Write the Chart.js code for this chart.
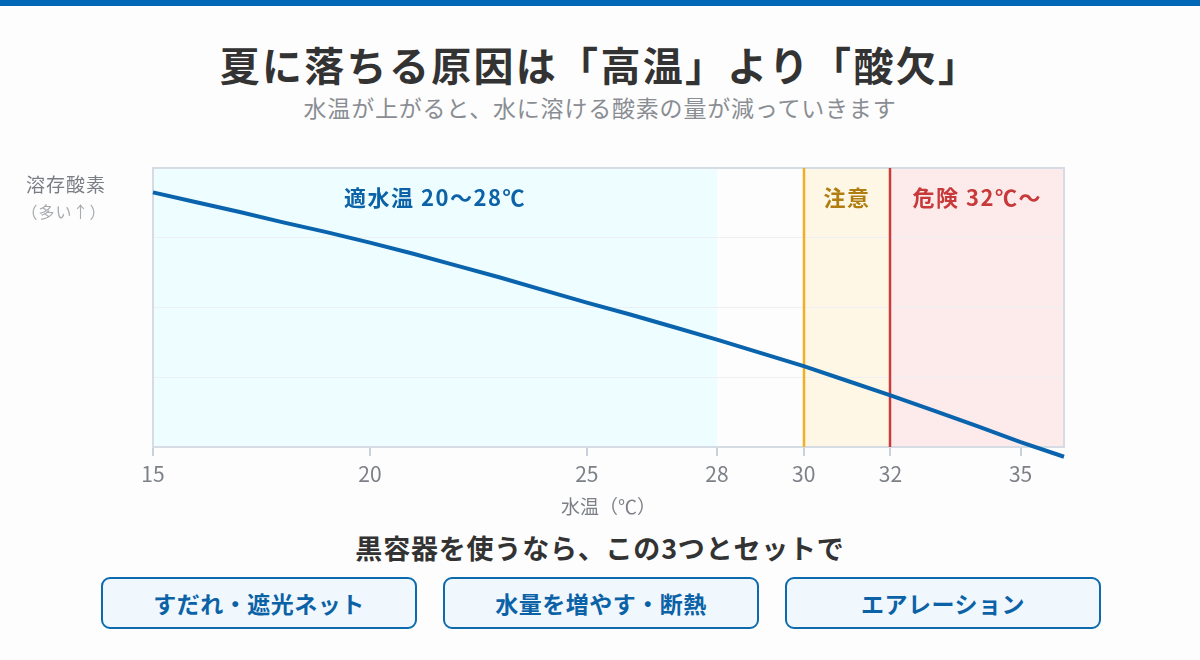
<!DOCTYPE html>
<html lang="ja">
<head>
  <meta charset="UTF-8">
  <script src="https://cdn.jsdelivr.net/npm/chart.js@4.4.1/dist/chart.umd.min.js"></script>
  <style>
    body { margin: 0; background: #fdfdfd; font-family: "Noto Sans CJK JP", "Noto Sans", sans-serif; }
    #page { position: relative; width: 1200px; height: 660px; overflow: hidden; }
    #topbar { position: absolute; left: 0; top: 0; width: 1200px; height: 6px; background: #0068b7; }
    .center { position: absolute; left: 0; width: 1200px; text-align: center; line-height: 1; }
    #title { top: 44px; font-size: 40px; letter-spacing: 2.3px; font-weight: 700; color: #333; }
    #sub { top: 96px; font-size: 23px; letter-spacing: 0.8px; color: #8a8d93; }
    #chartBox { position: absolute; left: 0; top: 140px; width: 1200px; height: 385px; }
    #tips { top: 534px; font-size: 27px; letter-spacing: 0.8px; font-weight: 700; color: #333; }
    .btn { position: absolute; top: 577px; width: 316px; height: 52px; box-sizing: border-box;
      border: 2px solid #0d6bad; border-radius: 9px; background: #f0f8fe; color: #0b62a6;
      font-size: 23px; letter-spacing: 0.5px; font-weight: 700; text-align: center; line-height: 48px; }
  </style>
  <title>夏に落ちる原因は「高温」より「酸欠」</title>
</head>
<body>
<div id="page">
  <div id="topbar"></div>
  <div id="title" class="center">夏に落ちる原因は「高温」より「酸欠」</div>
  <div id="sub" class="center">水温が上がると、水に溶ける酸素の量が減っていきます</div>
  <div id="chartBox"><canvas id="chart"></canvas></div>
  <div id="tips" class="center">黒容器を使うなら、この3つとセットで</div>
  <div class="btn" style="left:101px">すだれ・遮光ネット</div>
  <div class="btn" style="left:443px">水量を増やす・断熱</div>
  <div class="btn" style="left:785px">エアレーション</div>
</div>

<script>
  // water temperature (℃) and dissolved oxygen (relative)
  const temps = [15, 16, 17, 18, 19, 20, 21, 22, 23, 24, 25, 26, 27, 28, 29, 30, 31, 32, 33, 34, 35, 36];
  const oxygen = [9.65, 9.51, 9.37, 9.22, 9.08, 8.93, 8.77, 8.60, 8.43, 8.25, 8.07, 7.90, 7.72, 7.54, 7.35, 7.16, 6.95, 6.74, 6.52, 6.30, 6.07, 5.86];
  const tickTemps = [15, 20, 25, 28, 30, 32, 35];

  // zones on the temperature axis
  const zoneNames = ['適水温 20〜28℃', '注意', '危険 32℃〜'];
  const zoneFrom = [15, 30, 32];
  const zoneTo = [28, 32, 36];
  const zoneFill = ['#eefdff', '#fff7e6', '#fdebec'];
  const zoneText = ['#0b62a6', '#b07d10', '#c83a3a'];
  const markLines = [30, 32];
  const markColors = ['#f0b024', '#c83c3c'];

  const zonePlugin = {
    id: 'zones',
    beforeDraw(chart) {
      const { ctx, chartArea: a, scales: { x } } = chart;
      ctx.save();
      zoneFrom.forEach(function (from, i) {
        const x0 = x.getPixelForValue(from), x1 = x.getPixelForValue(zoneTo[i]);
        ctx.fillStyle = zoneFill[i];
        ctx.fillRect(x0, a.top, x1 - x0, a.bottom - a.top);
      });
      ctx.restore();
    },
    beforeDatasetsDraw(chart) {
      const { ctx, chartArea: a, scales: { x } } = chart;
      ctx.save();
      // frame
      ctx.strokeStyle = '#d5dce4';
      ctx.lineWidth = 2;
      ctx.strokeRect(a.left, a.top, a.right - a.left, a.bottom - a.top);
      // limit lines
      markLines.forEach(function (v, i) {
        const px = Math.round(x.getPixelForValue(v));
        ctx.strokeStyle = markColors[i];
        ctx.lineWidth = 2.5;
        ctx.beginPath();
        ctx.moveTo(px, a.top);
        ctx.lineTo(px, a.bottom);
        ctx.stroke();
      });
      // zone labels
      ctx.font = 'bold 22px "Noto Sans CJK JP"';
      ctx.letterSpacing = '1.5px';
      ctx.textAlign = 'center';
      ctx.textBaseline = 'middle';
      zoneNames.forEach(function (name, i) {
        const cx = (x.getPixelForValue(zoneFrom[i]) + x.getPixelForValue(zoneTo[i])) / 2;
        ctx.fillStyle = zoneText[i];
        ctx.fillText(name, cx, a.top + 30);
      });
      // y axis caption
      ctx.letterSpacing = '1px';
      ctx.fillStyle = '#7a7d83';
      ctx.font = '19px "Noto Sans CJK JP"';
      ctx.fillText('溶存酸素', 66, a.top + 17);
      ctx.fillStyle = '#a8abb0';
      ctx.font = '16px "Noto Sans CJK JP"';
      ctx.fillText('（多い↑）', 64, a.top + 44);
      ctx.restore();
    }
  };

  new Chart(document.getElementById('chart'), {
    type: 'line',
    data: {
      datasets: [{
        data: temps.map(function (t, i) { return { x: t, y: oxygen[i] }; }),
        borderColor: '#0a64ad',
        borderWidth: 4,
        pointRadius: 0,
        tension: 0,
        clip: false
      }]
    },
    options: {
      responsive: true,
      maintainAspectRatio: false,
      animation: false,
      layout: { padding: { left: 153, right: 136, top: 28, bottom: 0 } },
      plugins: { legend: { display: false }, tooltip: { enabled: false } },
      scales: {
        x: {
          type: 'linear',
          min: 15,
          max: 36,
          afterBuildTicks: function (s) { s.ticks = tickTemps.map(function (v) { return { value: v }; }); },
          afterFit: function (s) { s.height = 78; },
          grid: { drawOnChartArea: false, drawTicks: true, tickLength: 9, color: '#c9d1da', lineWidth: 2 },
          border: { display: false },
          ticks: { color: '#7d8087', padding: 5, font: { size: 21, family: '"Noto Sans CJK JP"' } },
          title: { display: true, text: '水温（℃）', color: '#7d8087', padding: { top: 0, bottom: 7 },
            font: { size: 19, family: '"Noto Sans CJK JP"' } }
        },
        y: {
          min: 6,
          max: 10,
          afterFit: function (s) { s.width = 0; },
          ticks: { display: false, stepSize: 1 },
          grid: { color: '#edf0f3', drawTicks: false },
          border: { display: false }
        }
      }
    },
    plugins: [zonePlugin]
  });
</script>
</body>
</html>
